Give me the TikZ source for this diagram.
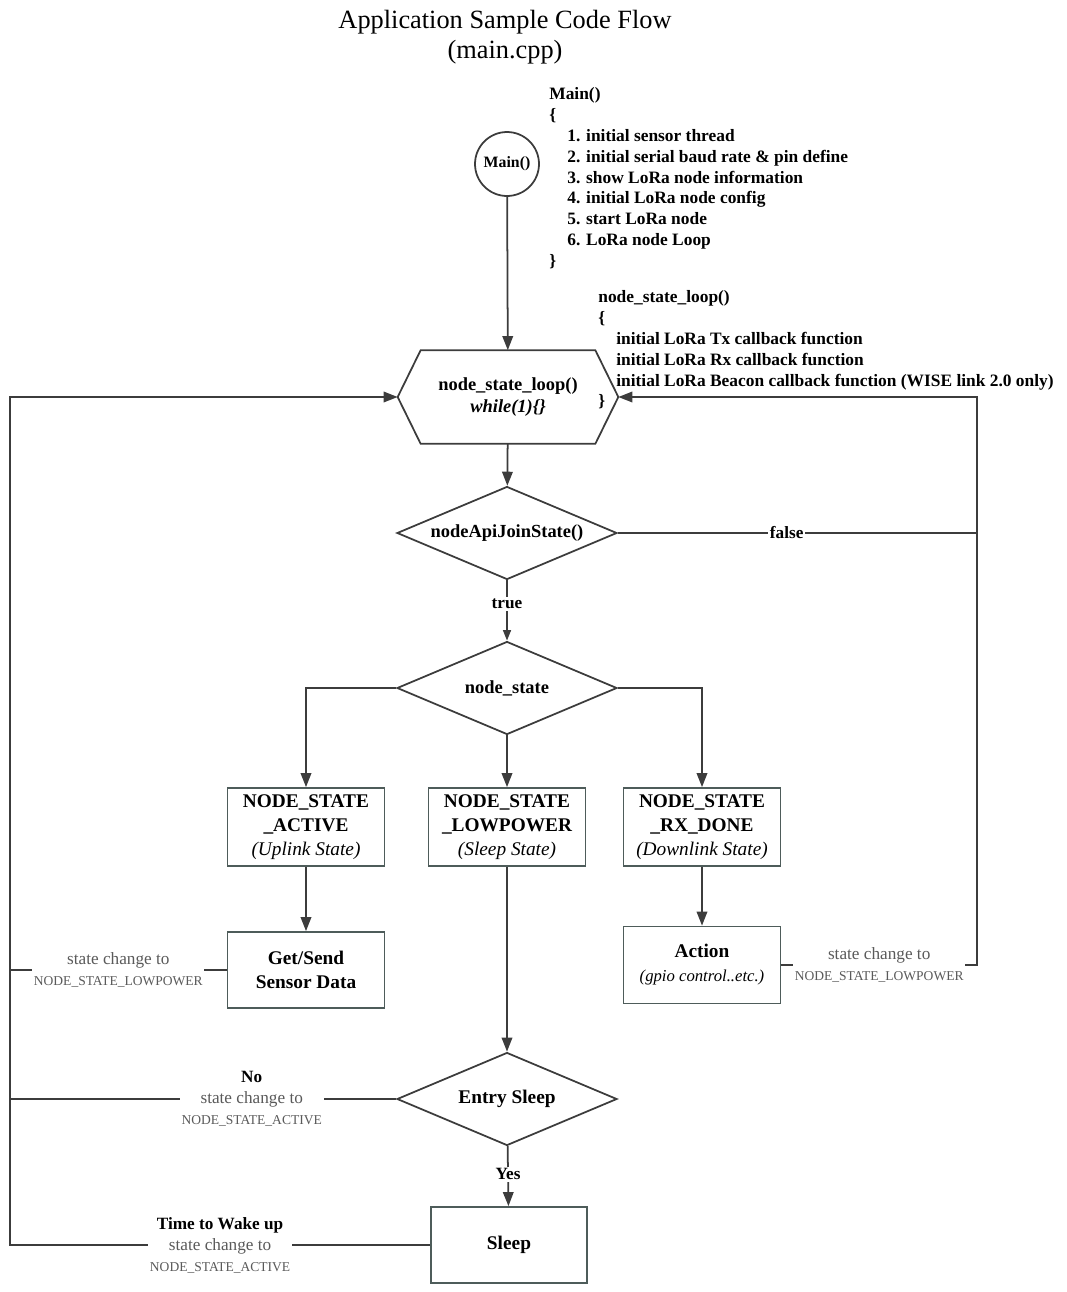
\documentclass[tikz,border=0pt]{standalone}
\usepackage{fontspec}
\setmainfont{Liberation Serif}
\usetikzlibrary{shapes.geometric,arrows.meta,positioning,calc}

\definecolor{linegray}{HTML}{3C3C3C}
\definecolor{boxgray}{HTML}{4E5C5A}
\definecolor{notegray}{HTML}{5A5A5A}

\begin{document}
\begin{tikzpicture}[
    x=0.02cm, y=-0.02cm,
    line/.style={draw=linegray, line width=1pt},
    flow/.style={line, -{Triangle[length=8pt,width=6pt]}},
    box/.style={rectangle, draw=boxgray, line width=1pt, minimum width=3.14cm, minimum height=1.56cm, align=center, inner sep=2pt, font=\fontsize{11}{13.6}\selectfont\bfseries},
    decision/.style={diamond, draw=linegray, line width=1pt, minimum width=4.4cm, minimum height=1.86cm, aspect=2.37, inner sep=0pt, font=\fontsize{10.5}{12}\selectfont\bfseries},
    code/.style={anchor=north west, align=left, inner sep=0pt, font=\fontsize{9.9}{11.9}\selectfont\bfseries},
    note/.style={fill=white, align=center, inner sep=1pt, text=notegray, font=\fontsize{9.8}{12}\selectfont},
    tag/.style={fill=white, inner sep=1pt, font=\fontsize{9.8}{11}\selectfont\bfseries}
]
\useasboundingbox (0,0) rectangle (1067,1292);

% Title
\node[font=\fontsize{15}{17}\selectfont, align=center] (title) at (505,37) {Application Sample Code Flow\\(main.cpp)};

% Nodes
\node[circle, draw=linegray, line width=1pt, minimum size=1.28cm, inner sep=0pt, font=\fontsize{9}{11}\selectfont\bfseries] (main) at (507,164) {Main()};
\node[minimum width=4.4cm, minimum height=1.86cm, inner sep=0pt, align=center, font=\fontsize{10.5}{13}\selectfont\bfseries] (loop) at (508,397) {node\_state\_loop()\\\textit{while(1)\{\}}};
\draw[line] (loop.west) -- ($(loop.north west)+(23,0)$) -- ($(loop.north east)+(-23,0)$) -- (loop.east) -- ($(loop.south east)+(-23,0)$) -- ($(loop.south west)+(23,0)$) -- cycle;
\node[decision] (join) at (507,533) {nodeApiJoinState()};
\node[decision] (state) at (507,688) {node\_state};

\node[box] (active) at (306,827) {NODE\_STATE\\\_ACTIVE\\{\mdseries\itshape (Uplink State)}};
\node[box] (lowpower) at (507,827) {NODE\_STATE\\\_LOWPOWER\\{\mdseries\itshape (Sleep State)}};
\node[box] (rxdone) at (702,827) {NODE\_STATE\\\_RX\_DONE\\{\mdseries\itshape (Downlink State)}};
\node[box, minimum height=1.52cm] (sensor) at (306,970) {Get/Send\\Sensor Data};
\node[box, minimum height=1.54cm] (action) at (702,965) {Action\\{\mdseries\itshape\fontsize{9.5}{11}\selectfont (gpio control..etc.)}};
\node[decision, font=\fontsize{11}{13}\selectfont\bfseries] (entry) at (507,1099) {Entry Sleep};
\node[box, minimum width=3.12cm, minimum height=1.52cm] (sleep) at (509,1245) {Sleep};

% Code comments
\node[code] (maincode) at (549,87) {Main()\\\{\\
\hspace*{0.36cm}1. initial sensor thread\\
\hspace*{0.36cm}2. initial serial baud rate \& pin define\\
\hspace*{0.36cm}3. show LoRa node information\\
\hspace*{0.36cm}4. initial LoRa node config\\
\hspace*{0.36cm}5. start LoRa node\\
\hspace*{0.36cm}6. LoRa node Loop\\\}};
\node[code] (loopcode) at (598,290) {node\_state\_loop()\\\{\\
\hspace*{0.36cm}initial LoRa Tx callback function\\
\hspace*{0.36cm}initial LoRa Rx callback function\\
\hspace*{0.36cm}initial LoRa Beacon callback function (WISE link 2.0 only)\\\}};

% Bus corners
\coordinate (rtop) at (977,397);
\coordinate (ltop) at (10,397);

% Arrows
\draw[flow] (main) -- (loop);
\draw[flow] (loop) -- (join);
\draw[line] (join.east) -- node[tag, pos=0.47] {false} (join.east -| rtop);
\draw[flow, -{Triangle[length=6pt,width=4.5pt]}] (join) -- node[tag, pos=0.39] {true} (state);
\draw[flow] (state.west) -| (active);
\draw[flow] (state) -- (lowpower);
\draw[flow] (state.east) -| (rxdone);
\draw[flow] (active) -- (sensor);
\draw[flow] (rxdone) -- (action);
\draw[flow] (lowpower) -- (entry);
\draw[flow] (entry) -- node[tag, pos=0.47] {Yes} (sleep);

% Loop back
\draw[flow] (action.east) -- node[note] {state change to\\{\fontsize{7.7}{9}\selectfont NODE\_STATE\_LOWPOWER}} (action.east -| rtop) -- (rtop) -- (loop.east);
\draw[line] (sensor.west) -- node[note] {state change to\\{\fontsize{7.7}{9}\selectfont NODE\_STATE\_LOWPOWER}} (sensor.west -| ltop);
\draw[line] (entry.west) -- node[note, pos=0.374] {\textcolor{black}{\bfseries No}\\state change to\\{\fontsize{7.7}{9}\selectfont NODE\_STATE\_ACTIVE}} (entry.west -| ltop);
\draw[flow] (sleep.west) -- node[note] {\textcolor{black}{\bfseries Time to Wake up}\\state change to\\{\fontsize{7.7}{9}\selectfont NODE\_STATE\_ACTIVE}} (sleep.west -| ltop) -- (ltop) -- (loop.west);

\end{tikzpicture}
\end{document}
